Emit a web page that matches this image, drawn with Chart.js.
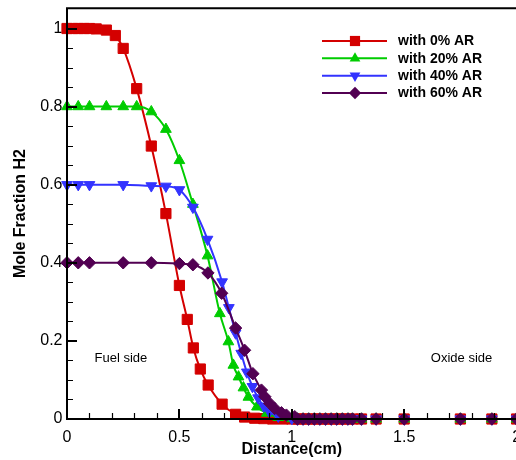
<!DOCTYPE html>
<html>
<head>
<meta charset="utf-8">
<script src="https://cdn.jsdelivr.net/npm/chart.js@4/dist/chart.umd.min.js"></script>
<style>
  html, body { margin: 0; padding: 0; background: #fff; overflow: hidden; }
  #wrap { position: relative; width: 516px; height: 460px; overflow: hidden; }
  canvas { display: block; }
</style>
</head>
<body>
<div id="wrap"><canvas id="c" width="560" height="460"></canvas></div>
<script>
// H2 mole fraction profiles across the burner gap for four argon dilution levels
const seriesLabels = ['with 0% AR', 'with 20% AR', 'with 40% AR', 'with 60% AR'];

const x0  = [0, 0.025, 0.05, 0.075, 0.1, 0.13, 0.175, 0.215, 0.25, 0.31, 0.375, 0.44, 0.5, 0.535, 0.562, 0.593, 0.628, 0.69, 0.75, 0.79, 0.835, 0.875, 0.915, 0.96, 1.0];
const y0  = [1, 1, 1, 1, 1, 0.999, 0.996, 0.982, 0.949, 0.846, 0.699, 0.526, 0.342, 0.255, 0.182, 0.128, 0.087, 0.038, 0.012, 0.005, 0.002, 0.001, 0, 0, 0];

const x20 = [0, 0.05, 0.1, 0.175, 0.25, 0.31, 0.375, 0.44, 0.5, 0.56, 0.625, 0.68, 0.718, 0.74, 0.763, 0.785, 0.807, 0.845, 0.889, 0.94, 1.0];
const y20 = [0.8, 0.8, 0.8, 0.8, 0.8, 0.8, 0.787, 0.742, 0.662, 0.55, 0.418, 0.27, 0.198, 0.138, 0.108, 0.08, 0.056, 0.031, 0.015, 0.004, 0.001];

const x40 = [0, 0.05, 0.1, 0.25, 0.375, 0.44, 0.5, 0.56, 0.625, 0.69, 0.72, 0.75, 0.775, 0.8, 0.825, 0.85, 0.875, 0.9, 0.94, 1.0];
const y40 = [0.6, 0.6, 0.6, 0.6, 0.597, 0.596, 0.587, 0.542, 0.46, 0.351, 0.285, 0.22, 0.168, 0.12, 0.083, 0.054, 0.033, 0.019, 0.007, 0.001];

const x60 = [0, 0.05, 0.1, 0.25, 0.375, 0.5, 0.56, 0.627, 0.688, 0.75, 0.79, 0.827, 0.865, 0.88, 0.902, 0.924, 0.954, 0.976, 1.013];
const y60 = [0.4, 0.4, 0.4, 0.4, 0.4, 0.398, 0.395, 0.374, 0.322, 0.233, 0.176, 0.116, 0.074, 0.057, 0.04, 0.027, 0.016, 0.01, 0.006];

// shared far-field (oxidizer side) mesh points, where H2 is fully consumed
const tailX = [1.025, 1.05, 1.075, 1.1, 1.125, 1.15, 1.175, 1.2, 1.225, 1.25, 1.27, 1.31, 1.375, 1.5, 1.75, 1.89, 2.0];
const tailY = [0, 0, 0, 0, 0, 0, 0, 0, 0, 0, 0, 0, 0, 0, 0, 0, 0];

const xTickValues = [0, 0.5, 1, 1.5, 2];
const xTickLabels = ['0', '0.5', '1', '1.5', '2'];
const yTickValues = [0, 0.2, 0.4, 0.6, 0.8, 1];
const yTickLabels = ['0', '0.2', '0.4', '0.6', '0.8', '1'];

const FONT = "'Liberation Sans', Arial, Helvetica, sans-serif";
const CANVAS_W = 560;
const PLOT_RIGHT = 516.6;

const styles = [
  { color: '#d40000', pointStyle: 'rect',     rotation: 0,   radius: 7.2 },
  { color: '#00cc00', pointStyle: 'triangle', rotation: 0,   radius: 6.2 },
  { color: '#3333ff', pointStyle: 'triangle', rotation: 180, radius: 6.2 },
  { color: '#520052', pointStyle: 'rectRot',  rotation: 0,   radius: 6.2 }
];

function toPoints(xs, ys) {
  const ax = xs.concat(tailX), ay = ys.concat(tailY);
  return ax.map((x, i) => ({ x: x, y: ay[i] }));
}

const seriesData = [toPoints(x0, y0), toPoints(x20, y20), toPoints(x40, y40), toPoints(x60, y60)];

const datasets = seriesData.map((pts, i) => ({
  label: seriesLabels[i],
  data: pts,
  borderColor: styles[i].color,
  backgroundColor: styles[i].color,
  pointBackgroundColor: styles[i].color,
  pointBorderColor: styles[i].color,
  pointBorderWidth: 1,
  pointStyle: styles[i].pointStyle,
  rotation: styles[i].rotation,
  pointRadius: styles[i].radius,
  borderWidth: 2,
  cubicInterpolationMode: 'monotone',
  clip: false,
  order: 3 - i
}));

function drawMarker(ctx, style, x, y) {
  const r = style.radius;
  ctx.save();
  ctx.fillStyle = style.color;
  ctx.beginPath();
  if (style.pointStyle === 'rect') {
    const s = Math.SQRT1_2 * r;
    ctx.rect(x - s, y - s, 2 * s, 2 * s);
  } else if (style.pointStyle === 'rectRot') {
    ctx.moveTo(x, y - r); ctx.lineTo(x + r, y); ctx.lineTo(x, y + r); ctx.lineTo(x - r, y);
    ctx.closePath();
  } else {
    const rot = style.rotation * Math.PI / 180;
    for (let k = 0; k < 3; k++) {
      const a = rot + k * 2 * Math.PI / 3;
      const px = x + Math.sin(a) * r, py = y - Math.cos(a) * r;
      if (k === 0) ctx.moveTo(px, py); else ctx.lineTo(px, py);
    }
    ctx.closePath();
  }
  ctx.fill();
  ctx.restore();
}

// axis frame with inward major/minor ticks, side annotations and the legend
const framePlugin = {
  id: 'frame',
  afterDatasetsDraw(chart) {
    const ctx = chart.ctx;
    const area = chart.chartArea;
    const xs = chart.scales.x, ys = chart.scales.y;
    ctx.save();
    ctx.strokeStyle = '#000';
    ctx.lineCap = 'butt';

    // minor ticks
    ctx.lineWidth = 1.2;
    ctx.beginPath();
    for (let v = 0.05; v < 1.05; v += 0.05) {
      if (Math.abs(v / 0.2 - Math.round(v / 0.2)) < 1e-6) continue;
      const py = Math.round(ys.getPixelForValue(v)) + 0.5;
      ctx.moveTo(area.left, py); ctx.lineTo(area.left + 6, py);
    }
    for (let v = 0.1; v < 2; v += 0.1) {
      if (Math.abs(v / 0.5 - Math.round(v / 0.5)) < 1e-6) continue;
      const px = Math.round(xs.getPixelForValue(v)) + 0.5;
      ctx.moveTo(px, area.bottom); ctx.lineTo(px, area.bottom - 6);
    }
    ctx.stroke();

    // major ticks
    ctx.lineWidth = 2;
    ctx.beginPath();
    yTickValues.forEach(v => {
      const py = Math.round(ys.getPixelForValue(v));
      ctx.moveTo(area.left, py); ctx.lineTo(area.left + 10, py);
    });
    xTickValues.forEach(v => {
      const px = Math.round(xs.getPixelForValue(v));
      ctx.moveTo(px, area.bottom); ctx.lineTo(px, area.bottom - 10);
    });
    ctx.stroke();

    // axis lines and top border
    ctx.lineWidth = 2;
    ctx.beginPath();
    ctx.moveTo(area.left, area.top); ctx.lineTo(area.right + 2, area.top);
    ctx.moveTo(area.left, area.top - 1); ctx.lineTo(area.left, area.bottom + 1);
    ctx.moveTo(area.left - 1, area.bottom); ctx.lineTo(area.right + 2, area.bottom);
    ctx.stroke();

    // side annotations
    ctx.fillStyle = '#000';
    ctx.font = '13px ' + FONT;
    ctx.textAlign = 'center';
    ctx.textBaseline = 'middle';
    ctx.fillText('Fuel side', xs.getPixelForValue(0.24), ys.getPixelForValue(0.155));
    ctx.fillText('Oxide side', xs.getPixelForValue(1.755), ys.getPixelForValue(0.155));

    // legend
    const lx0 = 322, lx1 = 387, mx = 355, tx = 398, ly0 = 41, dy = 17.35;
    ctx.font = 'bold 14px ' + FONT;
    ctx.textAlign = 'left';
    seriesLabels.forEach((lab, i) => {
      const y = ly0 + i * dy;
      ctx.strokeStyle = styles[i].color;
      ctx.lineWidth = 2;
      ctx.beginPath();
      ctx.moveTo(lx0, y); ctx.lineTo(lx1, y);
      ctx.stroke();
      drawMarker(ctx, styles[i], mx, y);
      ctx.fillStyle = '#000';
      ctx.fillText(lab, tx, y + 0.5);
    });
    ctx.restore();
  }
};

new Chart(document.getElementById('c'), {
  type: 'line',
  data: { datasets: datasets },
  options: {
    responsive: false,
    animation: false,
    devicePixelRatio: 1,
    layout: { padding: { left: 0, top: 8, right: CANVAS_W - PLOT_RIGHT, bottom: 0 } },
    plugins: { legend: { display: false }, tooltip: { enabled: false } },
    scales: {
      x: {
        type: 'linear',
        min: 0,
        max: 2,
        grid: { display: false, drawTicks: false },
        border: { display: false },
        afterBuildTicks: s => { s.ticks = xTickValues.map(v => ({ value: v })); },
        afterFit: s => { s.height = 41; s.paddingLeft = 0; s.paddingRight = 0; },
        ticks: {
          autoSkip: false,
          maxRotation: 0,
          padding: 8.5,
          color: '#000',
          font: { family: FONT, size: 16, lineHeight: 1.2 },
          callback: (v, i) => xTickLabels[i]
        },
        title: {
          display: true,
          text: 'Distance(cm)',
          color: '#000',
          font: { family: FONT, size: 16, weight: 'bold', lineHeight: 1.2 },
          padding: { top: 0, bottom: 1 }
        }
      },
      y: {
        type: 'linear',
        min: 0,
        max: 1.052,
        grid: { display: false, drawTicks: false },
        border: { display: false },
        afterBuildTicks: s => { s.ticks = yTickValues.map(v => ({ value: v })); },
        afterFit: s => { s.width = 67; s.paddingTop = 0; s.paddingBottom = 0; },
        ticks: {
          padding: 4.5,
          color: '#000',
          font: { family: FONT, size: 16, lineHeight: 1.2 },
          callback: (v, i) => yTickLabels[i]
        },
        title: {
          display: true,
          text: 'Mole Fraction H2',
          color: '#000',
          font: { family: FONT, size: 16, weight: 'bold', lineHeight: 1.2 },
          padding: { top: 11, bottom: 0 }
        }
      }
    }
  },
  plugins: [framePlugin]
});
</script>
</body>
</html>
